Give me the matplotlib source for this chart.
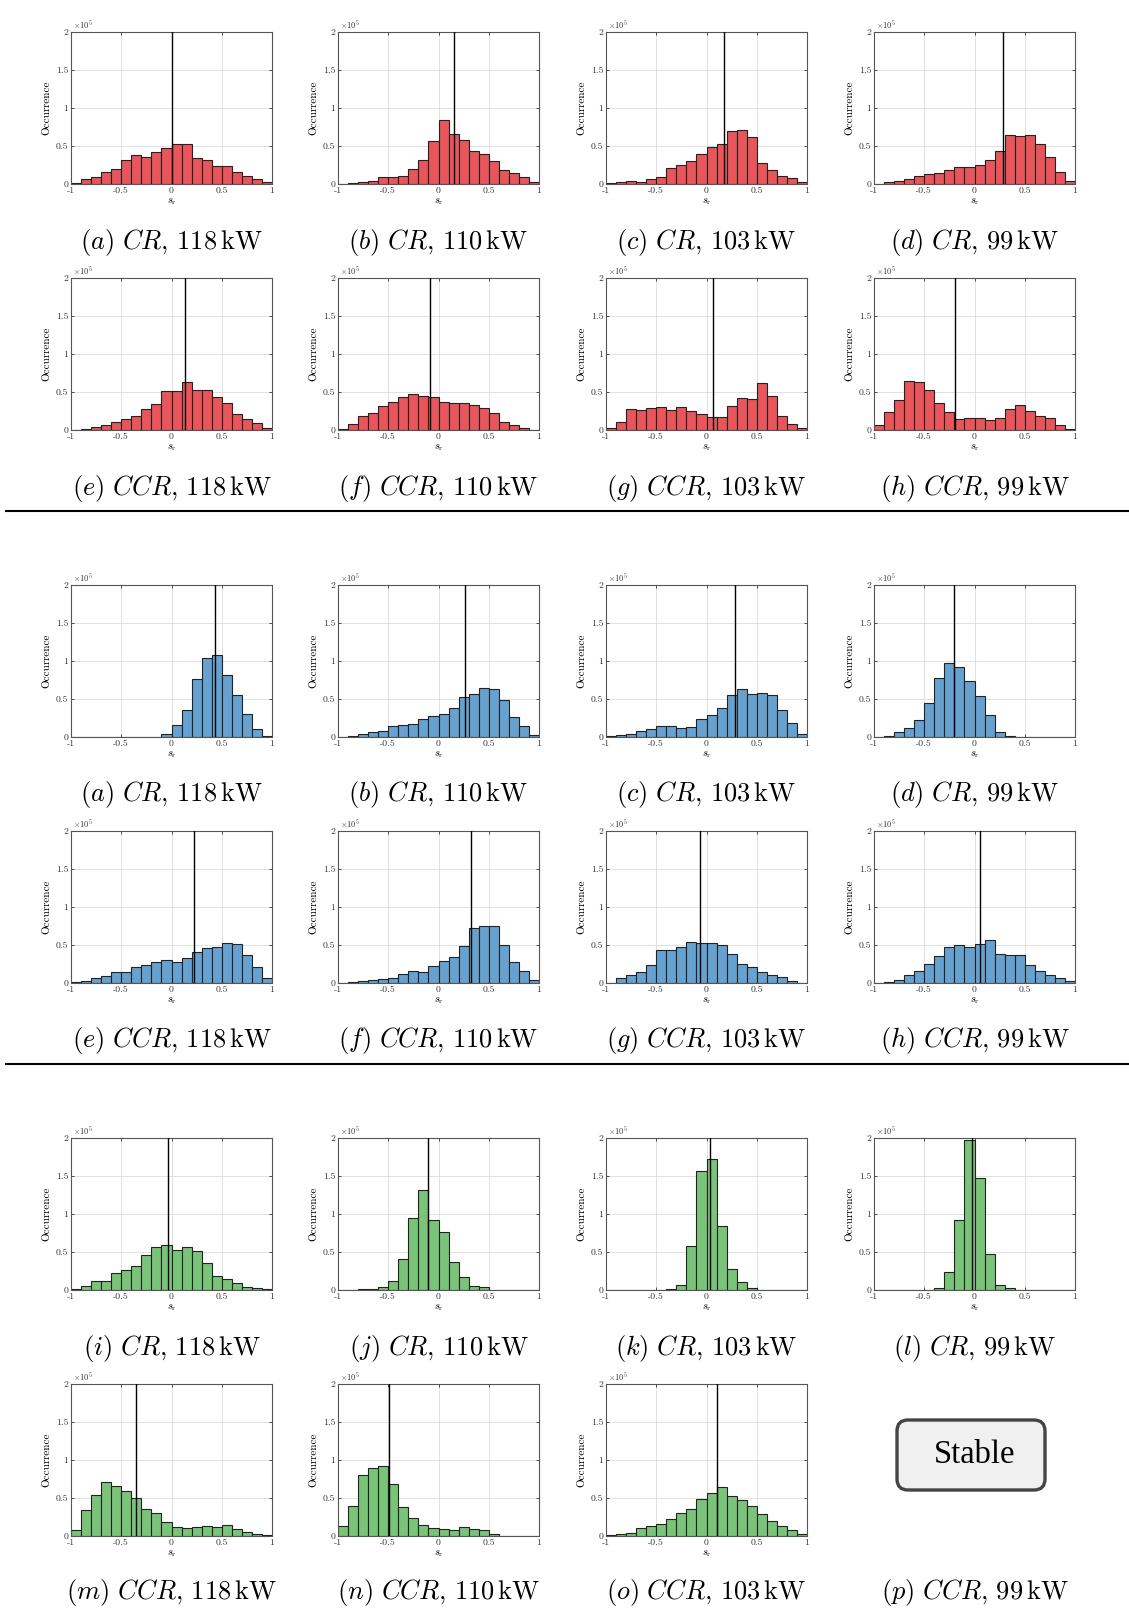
import numpy as np
import matplotlib
matplotlib.use("Agg")
import matplotlib.pyplot as plt
from matplotlib.lines import Line2D
from matplotlib.patches import FancyBboxPatch
from matplotlib.transforms import IdentityTransform

plt.rcParams['font.family'] = 'cmr10'
plt.rcParams['mathtext.fontset'] = 'cm'
plt.rcParams['axes.formatter.use_mathtext'] = True

# bin edges of s_r, 20 bins of width 0.1
edges = np.round(np.linspace(-1, 1, 21), 2)

# occurrence per bin, in units of 1e5
# --- red block
red_cr_118 = [0.01, 0.07, 0.09, 0.16, 0.20, 0.32, 0.38, 0.35, 0.42, 0.48,
              0.53, 0.53, 0.34, 0.32, 0.24, 0.24, 0.16, 0.10, 0.07, 0.02]
red_cr_110 = [0.00, 0.01, 0.03, 0.04, 0.09, 0.09, 0.11, 0.20, 0.31, 0.57,
              0.84, 0.66, 0.58, 0.43, 0.39, 0.30, 0.18, 0.14, 0.09, 0.03]
red_cr_103 = [0.01, 0.02, 0.04, 0.03, 0.06, 0.09, 0.21, 0.25, 0.30, 0.39,
              0.49, 0.53, 0.70, 0.71, 0.62, 0.28, 0.18, 0.10, 0.08, 0.02]
red_cr_99 = [0.00, 0.02, 0.04, 0.06, 0.10, 0.13, 0.15, 0.19, 0.23, 0.22,
             0.25, 0.32, 0.43, 0.65, 0.63, 0.65, 0.53, 0.35, 0.16, 0.04]
red_ccr_118 = [0.00, 0.01, 0.04, 0.06, 0.11, 0.14, 0.19, 0.27, 0.34, 0.51,
               0.51, 0.63, 0.52, 0.52, 0.43, 0.36, 0.21, 0.14, 0.09, 0.02]
red_ccr_110 = [0.01, 0.08, 0.18, 0.23, 0.31, 0.37, 0.43, 0.47, 0.45, 0.43,
               0.37, 0.35, 0.35, 0.33, 0.29, 0.23, 0.11, 0.07, 0.02, 0.00]
red_ccr_103 = [0.02, 0.10, 0.27, 0.26, 0.29, 0.30, 0.26, 0.30, 0.25, 0.21,
               0.17, 0.17, 0.31, 0.42, 0.41, 0.62, 0.45, 0.18, 0.08, 0.02]
red_ccr_99 = [0.06, 0.24, 0.39, 0.65, 0.63, 0.52, 0.36, 0.24, 0.15, 0.16,
              0.16, 0.13, 0.16, 0.28, 0.33, 0.25, 0.19, 0.16, 0.06, 0.01]
# --- blue block
blue_cr_118 = [0, 0, 0, 0, 0, 0, 0, 0, 0, 0.04,
               0.16, 0.35, 0.76, 1.04, 1.08, 0.82, 0.55, 0.30, 0.10, 0.01]
blue_cr_110 = [0.00, 0.01, 0.04, 0.06, 0.08, 0.14, 0.16, 0.17, 0.24, 0.27,
               0.30, 0.38, 0.53, 0.56, 0.65, 0.63, 0.49, 0.26, 0.15, 0.03]
blue_cr_103 = [0.01, 0.02, 0.04, 0.08, 0.10, 0.14, 0.15, 0.12, 0.13, 0.24,
               0.29, 0.38, 0.55, 0.63, 0.57, 0.58, 0.55, 0.36, 0.18, 0.04]
blue_cr_99 = [0.00, 0.01, 0.06, 0.12, 0.23, 0.45, 0.77, 0.97, 0.92, 0.74,
              0.54, 0.29, 0.07, 0.01, 0.005, 0.002, 0.002, 0.002, 0.0, 0.0]
blue_ccr_118 = [0.01, 0.03, 0.06, 0.09, 0.14, 0.14, 0.21, 0.24, 0.28, 0.30,
                0.27, 0.33, 0.41, 0.46, 0.47, 0.52, 0.51, 0.37, 0.21, 0.06]
blue_ccr_110 = [0.00, 0.01, 0.03, 0.04, 0.05, 0.07, 0.12, 0.16, 0.14, 0.23,
                0.29, 0.34, 0.49, 0.72, 0.75, 0.75, 0.50, 0.28, 0.16, 0.04]
blue_ccr_103 = [0.00, 0.06, 0.11, 0.15, 0.24, 0.44, 0.44, 0.47, 0.54, 0.53,
                0.53, 0.50, 0.38, 0.25, 0.21, 0.15, 0.10, 0.08, 0.03, 0.00]
blue_ccr_99 = [0.00, 0.01, 0.04, 0.11, 0.16, 0.25, 0.35, 0.48, 0.50, 0.47,
               0.51, 0.57, 0.38, 0.37, 0.37, 0.24, 0.16, 0.10, 0.07, 0.02]
# --- green block
green_cr_118 = [0.01, 0.05, 0.12, 0.12, 0.22, 0.26, 0.32, 0.46, 0.56, 0.59,
                0.53, 0.57, 0.51, 0.36, 0.19, 0.15, 0.09, 0.04, 0.03, 0.01]
green_cr_110 = [0.00, 0.00, 0.01, 0.01, 0.04, 0.12, 0.41, 0.95, 1.31, 0.92,
                0.76, 0.37, 0.17, 0.05, 0.04, 0.00, 0.00, 0.00, 0.00, 0.00]
green_cr_103 = [0, 0, 0, 0, 0, 0, 0.01, 0.07, 0.58, 1.57,
                1.72, 0.84, 0.27, 0.10, 0.03, 0.002, 0, 0, 0, 0]
green_cr_99 = [0, 0, 0, 0, 0, 0, 0.03, 0.24, 0.92, 1.97,
               1.47, 0.48, 0.07, 0.02, 0.005, 0, 0, 0, 0, 0]
green_ccr_118 = [0.08, 0.34, 0.54, 0.71, 0.66, 0.59, 0.50, 0.35, 0.30, 0.19,
                 0.12, 0.11, 0.12, 0.13, 0.12, 0.15, 0.09, 0.05, 0.02, 0.01]
green_ccr_110 = [0.13, 0.40, 0.80, 0.89, 0.92, 0.69, 0.38, 0.24, 0.14, 0.11,
                 0.09, 0.08, 0.12, 0.09, 0.08, 0.03, 0.005, 0.003, 0.002, 0.0]
green_ccr_103 = [0.01, 0.03, 0.04, 0.10, 0.13, 0.16, 0.23, 0.30, 0.36, 0.49,
                 0.57, 0.64, 0.53, 0.48, 0.40, 0.29, 0.20, 0.13, 0.08, 0.02]

# vertical marker (mean s_r) for each panel
red_vlines = [0.0, 0.15, 0.17, 0.28, 0.13, -0.08, 0.06, -0.19]
blue_vlines = [0.43, 0.26, 0.28, -0.20, 0.22, 0.32, -0.06, 0.05]
green_vlines = [-0.03, -0.10, 0.03, -0.02, -0.35, -0.49, 0.10]

red_data = [red_cr_118, red_cr_110, red_cr_103, red_cr_99,
            red_ccr_118, red_ccr_110, red_ccr_103, red_ccr_99]
blue_data = [blue_cr_118, blue_cr_110, blue_cr_103, blue_cr_99,
             blue_ccr_118, blue_ccr_110, blue_ccr_103, blue_ccr_99]
green_data = [green_cr_118, green_cr_110, green_cr_103, green_cr_99,
              green_ccr_118, green_ccr_110, green_ccr_103]

powers = ['118', '110', '103', '99']
letters_ah = list('abcdefgh')
letters_ip = list('ijklmnop')

red = '#e8555b'
blue = '#66a1cf'
green = '#7ac47a'

W, H = 1129, 1611
fig = plt.figure(figsize=(W / 100, H / 100), dpi=100)

col_left = [71, 338, 606, 874]
row_top = [32, 278, 585, 831, 1138, 1384]
cap_y = [242, 488, 794, 1041, 1348, 1593]
aw, ah = 201, 152


def caption(row, col, letter, mode, power):
    xc = (col_left[col] + aw / 2) / W
    s = r'$\mathit{(%s)\ %s,}\,%s\,\mathrm{kW}$' % (letter, mode, power)
    fig.text(xc, 1 - cap_y[row] / H, s, ha='center', va='center', fontsize=19)


def hist_panel(row, col, vals, vline, color):
    ax = fig.add_axes([col_left[col] / W, 1 - (row_top[row] + ah) / H, aw / W, ah / H])
    ax.bar(edges[:-1], vals, width=0.1, align='edge', color=color,
           edgecolor='#222222', linewidth=0.8, zorder=2)
    ax.axvline(vline, ymin=0, ymax=1, color='k', lw=1.0, zorder=3)
    ax.set_xlim(-1, 1)
    ax.set_ylim(0, 2)
    ax.set_xticks([-1, -0.5, 0, 0.5, 1], ['-1', '-0.5', '0', '0.5', '1'])
    ax.set_yticks([0, 0.5, 1, 1.5, 2], ['0', '0.5', '1', '1.5', '2'])
    ax.tick_params(direction='in', top=True, right=True, length=2.5, width=0.6,
                   labelsize=7, pad=2, colors='#333333')
    ax.grid(True, color='#dcdcdc', lw=0.6, zorder=0)
    for sp in ax.spines.values():
        sp.set_color('#555555')
        sp.set_linewidth(0.8)
    ax.set_ylabel('Occurrence', fontsize=8, labelpad=3)
    ax.set_xlabel(r'$s_\mathrm{r}$', fontsize=7.5, labelpad=1)
    ax.text(0.01, 1.005, r'$\times10^5$', transform=ax.transAxes,
            fontsize=6, ha='left', va='bottom', color='#333333')
    return ax


modes = ['CR'] * 4 + ['CCR'] * 4

for i, vals in enumerate(red_data):
    r, c = i // 4, i % 4
    hist_panel(r, c, vals, red_vlines[i], red)
    caption(r, c, letters_ah[i], modes[i], powers[c])

for i, vals in enumerate(blue_data):
    r, c = 2 + i // 4, i % 4
    hist_panel(r, c, vals, blue_vlines[i], blue)
    caption(r, c, letters_ah[i], modes[i], powers[c])

for i, vals in enumerate(green_data):
    r, c = 4 + i // 4, i % 4
    hist_panel(r, c, vals, green_vlines[i], green)
    caption(r, c, letters_ip[i], modes[i], powers[c])

# last panel: no histogram, just the "Stable" box
caption(5, 3, letters_ip[7], 'CCR', powers[3])
box = FancyBboxPatch((897, H - 1490), 148, 70,
                     boxstyle='round,pad=0,rounding_size=11',
                     fc='#f0f0f0', ec='#444444', lw=2.4,
                     transform=IdentityTransform())
fig.add_artist(box)
fig.text(975 / W, 1 - 1455 / H, 'Stable', ha='center', va='center',
         fontsize=23.5, family='Liberation Serif')

# separators between the three blocks
for y in [511, 1064]:
    fig.add_artist(Line2D([6 / W, 1.0], [1 - y / H, 1 - y / H],
                          transform=fig.transFigure, color='k', lw=1.5))

fig.savefig('out.png', dpi=100)
